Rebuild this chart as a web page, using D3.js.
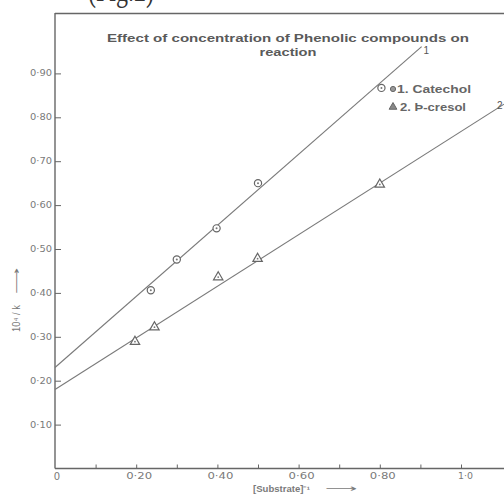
<!DOCTYPE html>
<html>
<head>
<meta charset="utf-8">
<script src="https://cdn.jsdelivr.net/npm/d3@7"></script>
<style>
  body { margin: 0; background: #fff; }
  svg { display: block; }
</style>
</head>
<body>
<div class="chart"></div>
<script>
// readings
const catecholX = [0.236, 0.30, 0.398, 0.50, 0.804];
const catecholY = [0.406, 0.476, 0.547, 0.65, 0.867];
const cresolX = [0.197, 0.245, 0.402, 0.499, 0.80];
const cresolY = [0.289, 0.322, 0.436, 0.478, 0.647];

// drawn straight lines (start, end)
const line1X = [0, 0.903];
const line1Y = [0.23, 0.961];
const line2X = [0, 1.106];
const line2Y = [0.18, 0.83];

const xTicks = [0.1, 0.2, 0.3, 0.4, 0.5, 0.6, 0.7, 0.8, 0.9, 1.0];
const xTickLabels = { 0.2: "0·20", 0.4: "0·40", 0.6: "0·60", 0.8: "0·80", 1.0: "1·0" };
const yTicks = [0.1, 0.2, 0.3, 0.4, 0.5, 0.6, 0.7, 0.8, 0.9];
const yTickLabels = ["0·10", "0·20", "0·30", "0·40", "0·50", "0·60", "0·70", "0·80", "0·90"];

const titleLines = ["Effect of concentration of Phenolic compounds on", "reaction"];
const legendItems = ["1. Catechol", "2. Þ-cresol"];

const width = 504;
const height = 500;
const ink = "#7a7a7a";

const svg = d3
  .select(".chart")
  .append("svg")
  .attr("width", width)
  .attr("height", height);

const x = d3.scaleLinear().domain([0, 1]).range([55, 461]);
const y = d3.scaleLinear().domain([0, 1]).range([468.5, 29.5]);

// scan remnant of caption above the figure (only its lower edge shows)
svg.append("text")
  .attr("x", 88)
  .attr("y", 1)
  .attr("textLength", 66)
  .attr("lengthAdjust", "spacingAndGlyphs")
  .style("font-family", "Liberation Serif, serif")
  .style("font-size", "34px")
  .style("fill", "#333")
  .text("(Fig.2)");

// frame top
svg.append("line")
  .attr("x1", x(0)).attr("x2", width)
  .attr("y1", 13.5).attr("y2", 13.5)
  .attr("stroke", "#666").attr("stroke-width", 1.4);

// x axis
const xAxis = d3.axisTop(x)
  .tickValues(xTicks)
  .tickSize(4)
  .tickFormat("");
const gx = svg.append("g")
  .attr("transform", `translate(0,${y(0)})`)
  .call(xAxis);
gx.select(".domain").remove();
gx.selectAll(".tick line").attr("stroke", "#666");
gx.append("line")
  .attr("x1", x(0)).attr("x2", width)
  .attr("stroke", "#666").attr("stroke-width", 1.4);

svg.append("g")
  .selectAll("text")
  .data(xTicks.filter((d) => xTickLabels[d]))
  .join("text")
  .attr("x", (d) => x(d) - (d === 1 ? 3 : 10))
  .attr("y", y(0) + 10)
  .attr("textLength", (d) => (d === 1 ? 15 : 26))
  .attr("lengthAdjust", "spacingAndGlyphs")
  .style("font-family", "DejaVu Sans, sans-serif")
  .style("font-size", "8.5px")
  .style("fill", ink)
  .text((d) => xTickLabels[d]);

// y axis
const yAxis = d3.axisRight(y)
  .tickValues(yTicks)
  .tickSize(6)
  .tickFormat("");
const gy = svg.append("g")
  .attr("transform", `translate(${x(0)},0)`)
  .call(yAxis);
gy.select(".domain").remove();
gy.selectAll(".tick line").attr("stroke", "#666");
gy.append("line")
  .attr("y1", y(0)).attr("y2", 13)
  .attr("stroke", "#666").attr("stroke-width", 1.4);

svg.append("g")
  .selectAll("text")
  .data(yTicks)
  .join("text")
  .attr("x", x(0) - 25)
  .attr("y", (d) => y(d) + 3)
  .attr("textLength", 22)
  .attr("lengthAdjust", "spacingAndGlyphs")
  .style("font-family", "DejaVu Sans, sans-serif")
  .style("font-size", "8.5px")
  .style("fill", ink)
  .text((d, i) => yTickLabels[i]);

svg.append("text")
  .attr("x", x(0) + 2)
  .attr("y", y(0) + 11)
  .attr("text-anchor", "middle")
  .style("font-family", "DejaVu Sans, sans-serif")
  .style("font-size", "10px")
  .style("fill", ink)
  .text("0");

// axis titles
svg.append("text")
  .attr("x", 253)
  .attr("y", 492)
  .attr("textLength", 57)
  .attr("lengthAdjust", "spacingAndGlyphs")
  .style("font-family", "Liberation Sans, Arial, sans-serif")
  .style("font-size", "8.5px")
  .style("font-weight", "bold")
  .style("fill", "#7a7a7a")
  .text("[Substrate]⁻¹");

svg.append("text")
  .attr("x", 325)
  .attr("y", 492)
  .attr("textLength", 32)
  .attr("lengthAdjust", "spacingAndGlyphs")
  .style("font-family", "DejaVu Sans, sans-serif")
  .style("font-size", "10px")
  .style("fill", "#7a7a7a")
  .text("⟶");

const yTitle = svg.append("g").attr("transform", "translate(20,0) rotate(-90)");
yTitle.append("text")
  .attr("x", -332)
  .attr("y", 0)
  .attr("textLength", 27)
  .attr("lengthAdjust", "spacingAndGlyphs")
  .style("font-family", "Liberation Sans, Arial, sans-serif")
  .style("font-size", "10px")
  .style("fill", "#777")
  .text("10⁴ / k");
yTitle.append("text")
  .attr("x", -294)
  .attr("y", 0)
  .attr("textLength", 26)
  .attr("lengthAdjust", "spacingAndGlyphs")
  .style("font-family", "DejaVu Sans, sans-serif")
  .style("font-size", "10px")
  .style("fill", "#777")
  .text("⟶");

// title
const titleWidths = [362, 57];
svg.append("g")
  .selectAll("text")
  .data(titleLines)
  .join("text")
  .attr("x", (d, i) => 288 - titleWidths[i] / 2)
  .attr("y", (d, i) => 42 + i * 14)
  .attr("textLength", (d, i) => titleWidths[i])
  .attr("lengthAdjust", "spacingAndGlyphs")
  .style("font-family", "Liberation Sans, Arial, sans-serif")
  .style("font-size", "11.5px")
  .style("font-weight", "bold")
  .style("fill", "#5a5a5a")
  .text((d) => d);

// fitted lines
const line = d3.line()
  .x((d) => x(d[0]))
  .y((d) => y(d[1]));

[[line1X, line1Y], [line2X, line2Y]].forEach(([xs, ys]) => {
  svg.append("path")
    .datum(xs.map((v, i) => [v, ys[i]]))
    .attr("d", line)
    .attr("fill", "none")
    .attr("stroke", "#7a7a7a")
    .attr("stroke-width", 1.1);
});

svg.append("text")
  .attr("x", x(line1X[1]) + 2)
  .attr("y", y(line1Y[1]) + 7)
  .style("font-family", "Liberation Sans, sans-serif")
  .style("font-size", "10px")
  .style("fill", "#555")
  .text("1");

svg.append("text")
  .attr("x", x(line2X[1]) - 7)
  .attr("y", y(line2Y[1]) + 5)
  .style("font-family", "Liberation Sans, sans-serif")
  .style("font-size", "10px")
  .style("fill", "#555")
  .text("2");

// catechol points: open circle with centre dot
const gc = svg.append("g")
  .selectAll("g")
  .data(catecholX.map((v, i) => [v, catecholY[i]]))
  .join("g")
  .attr("transform", (d) => `translate(${x(d[0])},${y(d[1])})`);
gc.append("circle")
  .attr("r", 3.6)
  .attr("fill", "#fff")
  .attr("stroke", "#666")
  .attr("stroke-width", 1.2);
gc.append("circle").attr("r", 1).attr("fill", "#777");

// p-cresol points: open triangle with centre dot
const tri = d3.symbol().type(d3.symbolTriangle).size(38);
const gt = svg.append("g")
  .selectAll("g")
  .data(cresolX.map((v, i) => [v, cresolY[i]]))
  .join("g")
  .attr("transform", (d) => `translate(${x(d[0])},${y(d[1])})`);
gt.append("path")
  .attr("d", tri)
  .attr("fill", "#fff")
  .attr("stroke", "#666")
  .attr("stroke-width", 1.2);
gt.append("circle").attr("r", 0.9).attr("fill", "#777");

// legend
const legendWidths = [74, 66];
const legend = svg.append("g").attr("transform", "translate(393,89)");
legend.append("circle")
  .attr("r", 2.6)
  .attr("fill", "#999")
  .attr("stroke", "#666");
legend.append("path")
  .attr("d", d3.symbol().type(d3.symbolTriangle).size(26))
  .attr("transform", "translate(0,18)")
  .attr("fill", "#888")
  .attr("stroke", "#666");
legend.selectAll("text")
  .data(legendItems)
  .join("text")
  .attr("x", (d, i) => (i === 0 ? 4 : 7))
  .attr("y", (d, i) => 3.5 + i * 18)
  .attr("textLength", (d, i) => legendWidths[i])
  .attr("lengthAdjust", "spacingAndGlyphs")
  .style("font-family", "Liberation Sans, Arial, sans-serif")
  .style("font-size", "10.5px")
  .style("font-weight", "bold")
  .style("fill", "#666")
  .text((d) => d);
</script>
</body>
</html>
